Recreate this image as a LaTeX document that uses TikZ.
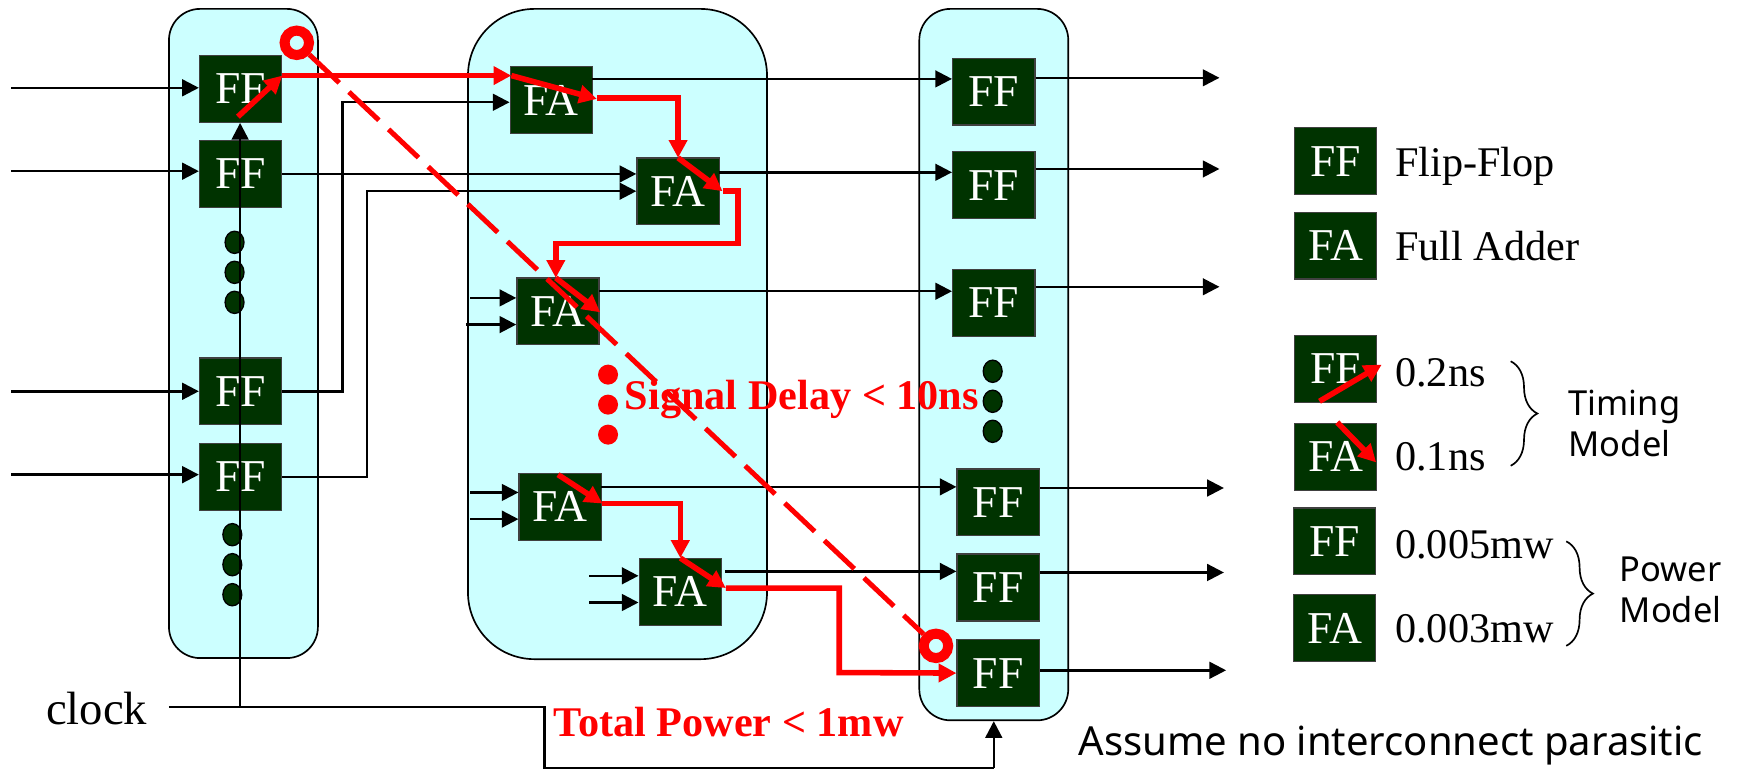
\documentclass[tikz,border=0pt]{standalone}
\usepackage{fontspec}
\setmainfont{Liberation Serif}
\newfontfamily\notefont{Noto Sans}
\usetikzlibrary{arrows.meta}
\usetikzlibrary{decorations.pathreplacing}
\usetikzlibrary{shapes.geometric}
\definecolor{mpanel}{rgb}{0.8, 1, 1}
\definecolor{mgate}{rgb}{0, 0.2, 0}
\definecolor{mred}{rgb}{1, 0, 0}
\tikzset{
  panel/.style={draw=black, fill=mpanel, line width=1.5pt, rounded corners=#1},
  gate/.style={draw=black!75, fill=mgate, text=white, line width=1.2pt, minimum width=74pt, minimum height=60pt, inner sep=0pt, font=\fontsize{41}{41}\selectfont},
  legend/.style={anchor=west, inner sep=0pt, font=\fontsize{38}{38}\selectfont},
  note/.style={inner sep=0pt, font=\fontsize{31}{37}\selectfont\notefont, align=left},
  alarm/.style={mred, inner sep=0pt, font=\fontsize{38}{38}\selectfont\bfseries},
  bead/.style={draw=black, fill=mgate, line width=1.2pt, ellipse, minimum width=17pt, minimum height=20pt, inner sep=0pt},
  reddot/.style={fill=mred, circle, minimum size=18pt, inner sep=0pt},
  ring/.style={draw=mred, fill=mpanel, circle, line width=9pt, minimum size=22pt, inner sep=0pt},
  wire/.style={line width=2.2pt, -{Triangle[length=15pt, width=15pt]}},
  plainwire/.style={line width=2.2pt},
  redwire/.style={mred, line width=5pt, -{Triangle[length=16pt, width=16pt]}},
  curly/.style={decorate, decoration={brace, amplitude=24pt}, line width=1.5pt}
}
\begin{document}
\begin{tikzpicture}[x=1pt, y=-1pt]
      \useasboundingbox (0, 0) rectangle (1568, 692);

      \node [panel=28pt, minimum width=134pt, minimum height=584pt] (bankin) at (219, 300) {};
      \node [panel=60pt, minimum width=269pt, minimum height=585pt] (bankadd) at (555.5, 300.5) {};
      \node [panel=28pt, minimum width=134pt, minimum height=640pt] (bankout) at (894, 328) {};

      \node [gate] (ffa) at (216.5, 80) {FF};
      \node [gate] (ffb) at (216.5, 156.5) {FF};
      \node [gate] (ffc) at (216.5, 352) {FF};
      \node [gate] (ffd) at (216.5, 429) {FF};

      \node [gate] (faa) at (496, 90) {FA};
      \node [gate] (fab) at (610, 172) {FA};
      \node [gate] (fac) at (502, 280) {FA};
      \node [gate] (fad) at (504, 456) {FA};
      \node [gate] (fae) at (612, 532.5) {FA};

      \node [gate] (ffp) at (894, 82.5) {FF};
      \node [gate] (ffq) at (894, 166.5) {FF};
      \node [gate] (ffr) at (894, 272.5) {FF};
      \node [gate] (ffs) at (898, 452) {FF};
      \node [gate] (fft) at (898, 528.5) {FF};
      \node [gate] (ffu) at (898, 605.5) {FF};

      \node [gate] (keyff) at (1201.5, 145) {FF};
      \node [gate] (keyfa) at (1201.5, 221) {FA};
      \node [gate] (timeff) at (1201.5, 332) {FF};
      \node [gate] (timefa) at (1201.5, 411) {FA};
      \node [gate] (powff) at (1200.5, 487) {FF};
      \node [gate] (powfa) at (1200.5, 565) {FA};

      \node [bead] (beada) at (211, 218) {};
      \node [bead] (beadb) at (211, 245) {};
      \node [bead] (beadc) at (211, 272) {};
      \node [bead] (beadd) at (209, 481) {};
      \node [bead] (beade) at (209, 508) {};
      \node [bead] (beadf) at (209, 535) {};
      \node [bead] (beadg) at (893, 334) {};
      \node [bead] (beadh) at (893, 361) {};
      \node [bead] (beadi) at (893, 388) {};

      \node [reddot] (dota) at (547, 337) {};
      \node [reddot] (dotb) at (547, 364) {};
      \node [reddot] (dotc) at (547, 391) {};

      \coordinate (ina) at (10, 79);
      \coordinate (inb) at (10, 154);
      \coordinate (inc) at (10, 352);
      \coordinate (ind) at (10, 427);
      \draw [wire] (ina) -- (ina -| ffa.west);
      \draw [wire] (inb) -- (inb -| ffb.west);
      \draw [wire] (inc) -- (inc -| ffc.west);
      \draw [wire] (ind) -- (ind -| ffd.west);

      \coordinate (busa) at (308, 92);
      \coordinate (busb) at (330, 172);
      \draw [wire] (ffc.east) -- (ffc.east -| busa) -- (busa) -- (busa -| faa.west);
      \draw [wire] (ffd.east) -- (ffd.east -| busb) -- (busb) -- (busb -| fab.west);
      \draw [wire] (ffb.east) -- (ffb.east -| fab.west);

      \coordinate (feedca) at (423, 268);
      \coordinate (feedcb) at (419, 292);
      \coordinate (feedda) at (423, 443);
      \coordinate (feeddb) at (423, 467);
      \coordinate (feedea) at (530, 518);
      \coordinate (feedeb) at (530, 542);
      \draw [wire] (feedca) -- (feedca -| fac.west);
      \draw [wire] (feedcb) -- (feedcb -| fac.west);
      \draw [wire] (feedda) -- (feedda -| fad.west);
      \draw [wire] (feeddb) -- (feeddb -| fad.west);
      \draw [wire] (feedea) -- (feedea -| fae.west);
      \draw [wire] (feedeb) -- (feedeb -| fae.west);

      \coordinate (suma) at (533, 71);
      \coordinate (sumb) at (647, 155);
      \coordinate (sumc) at (539, 262);
      \coordinate (sumd) at (541, 438);
      \coordinate (sume) at (652, 514);
      \draw [wire] (suma) -- (suma -| ffp.west);
      \draw [wire] (sumb) -- (sumb -| ffq.west);
      \draw [wire] (sumc) -- (sumc -| ffr.west);
      \draw [wire] (sumd) -- (sumd -| ffs.west);
      \draw [wire] (sume) -- (sume -| fft.west);

      \coordinate (outp) at (1097, 70);
      \coordinate (outq) at (1097, 152);
      \coordinate (outr) at (1097, 258);
      \coordinate (outs) at (1101, 439);
      \coordinate (outt) at (1101, 515);
      \coordinate (outu) at (1103, 603);
      \draw [wire] (outp -| ffp.east) -- (outp);
      \draw [wire] (outq -| ffq.east) -- (outq);
      \draw [wire] (outr -| ffr.east) -- (outr);
      \draw [wire] (outs -| ffs.east) -- (outs);
      \draw [wire] (outt -| fft.east) -- (outt);
      \draw [wire] (outu -| ffu.east) -- (outu);

      \node [inner sep=0pt, font=\fontsize{42}{42}\selectfont] (clock) at (87, 637) {clock};
      \coordinate (clka) at (152, 636);
      \coordinate (clkb) at (216, 636);
      \coordinate (clkc) at (490, 636);
      \coordinate (clkd) at (490, 691);
      \coordinate (clke) at (894, 691);
      \draw [plainwire] (clka) -- (clkc) -- (clkd) -- (clke);
      \draw [wire] (clkb) -- (clkb |- ffa.south);
      \draw [wire] (clke) -- (clke |- bankout.south);

      \node [ring] (launch) at (267, 38.5) {};
      \node [ring] (capture) at (842, 581) {};
      \draw [mred, line width=4.5pt, dash pattern=on 37pt off 12pt] (launch) -- (capture);

      \coordinate (pa) at (214, 105);
      \coordinate (pb) at (254, 68);
      \coordinate (pc) at (460, 68);
      \coordinate (pd) at (537, 89);
      \coordinate (pe) at (610, 88);
      \coordinate (pf) at (610, 142);
      \coordinate (pg) at (650, 172);
      \coordinate (ph) at (664, 172);
      \coordinate (pi) at (664, 219);
      \coordinate (pj) at (500, 219);
      \coordinate (pk) at (500, 250);
      \coordinate (pl) at (540, 281);
      \draw [redwire] (pa) -- (pb);
      \draw [redwire] (pb) -- (pc);
      \draw [redwire] (pc) -- (pd);
      \draw [redwire] (pd |- pe) -- (pe) -- (pf);
      \draw [redwire] (pf) -- (pg);
      \draw [redwire] (pg) -- (ph) -- (pi) -- (pj) -- (pk);
      \draw [redwire] (pk) -- (pl);

      \coordinate (qa) at (502, 427);
      \coordinate (qb) at (542, 453);
      \coordinate (qc) at (612, 453);
      \coordinate (qd) at (612, 502);
      \coordinate (qe) at (653, 529);
      \coordinate (qf) at (755, 529);
      \coordinate (qg) at (755, 605);
      \draw [redwire] (qa) -- (qb);
      \draw [redwire] (qb) -- (qc) -- (qd);
      \draw [redwire] (qd) -- (qe);
      \draw [redwire] (qe) -- (qf) -- (qg) -- (ffu.west);

      \node [alarm, anchor=west] (delay) at (562, 359) {Signal Delay < 10ns};
      \node [alarm, anchor=west] (power) at (498, 650) {Total Power < 1mw};

      \node [legend] (flip) at (1255, 150) {Flip-Flop};
      \node [legend] (adder) at (1255, 221) {Full Adder};
      \node [legend] (tff) at (1255, 335) {0.2ns};
      \node [legend] (tfa) at (1255, 411) {0.1ns};
      \node [legend] (pff) at (1255, 490) {0.005mw};
      \node [legend] (pfa) at (1255, 566) {0.003mw};

      \coordinate (ta) at (1187, 361);
      \coordinate (tb) at (1243, 328);
      \coordinate (tc) at (1203, 380);
      \coordinate (td) at (1238, 416);
      \draw [redwire] (ta) -- (tb);
      \draw [redwire] (tc) -- (td);

      \coordinate (bta) at (1359, 325);
      \coordinate (btb) at (1359, 419);
      \coordinate (bpa) at (1409, 487);
      \coordinate (bpb) at (1409, 581);
      \draw [curly] (bta) -- (btb);
      \draw [curly] (bpa) -- (bpb);

      \node [note, anchor=west] (timing) at (1411, 381) {Timing\\Model};
      \node [note, anchor=west] (model) at (1457, 531) {Power\\Model};
      \node [note, anchor=west, font=\fontsize{36}{36}\selectfont\notefont] (assume) at (970, 671) {Assume no interconnect parasitic};
    \end{tikzpicture}
\end{document}
